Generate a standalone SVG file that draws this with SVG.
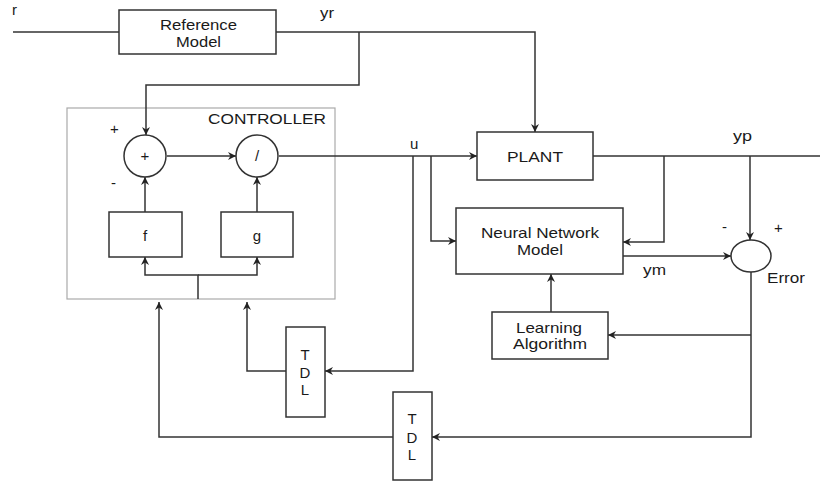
<svg xmlns="http://www.w3.org/2000/svg" width="820" height="485" viewBox="0 0 820 485">
<style>
.box{fill:#fff;stroke:#333;stroke-width:1.5}
.ln{fill:none;stroke:#333;stroke-width:1.5}
.t{font-family:"Liberation Sans",Arial,sans-serif;font-size:15px;fill:#1a1a1a}
.c{text-anchor:middle}
</style>
<defs>
<marker id="a" markerUnits="userSpaceOnUse" markerWidth="9" markerHeight="8" refX="8" refY="4" orient="auto">
<path d="M0,0 L8,4 L0,8 L2.5,4 z" fill="#222"/>
</marker>
</defs>
<rect width="820" height="485" fill="#fff"/>
<g id="controller">
<rect x="67" y="108" width="268" height="191" fill="none" stroke="#aaa" stroke-width="1.2"/>
<text class="t" x="208" y="124" textLength="118" lengthAdjust="spacingAndGlyphs">CONTROLLER</text>
</g>
<g id="connectors">
<path class="ln" d="M13,32 H119"/>
<path class="ln" d="M276,32 H535 V132" marker-end="url(#a)"/>
<path class="ln" d="M359,32 V85 H146 V135" marker-end="url(#a)"/>
<path class="ln" d="M167,156 H236" marker-end="url(#a)"/>
<path class="ln" d="M145,212 V177" marker-end="url(#a)"/>
<path class="ln" d="M257,212 V177" marker-end="url(#a)"/>
<path class="ln" d="M198,299 V275 H145 V257" marker-end="url(#a)"/>
<path class="ln" d="M198,275 H257 V257" marker-end="url(#a)"/>
<path class="ln" d="M279,156 H477" marker-end="url(#a)"/>
<path class="ln" d="M413,156 V371 H325" marker-end="url(#a)"/>
<path class="ln" d="M431,156 V241 H456" marker-end="url(#a)"/>
<path class="ln" d="M286,371 H247 V302" marker-end="url(#a)"/>
<path class="ln" d="M593,156 H820"/>
<path class="ln" d="M664,156 V242 H623" marker-end="url(#a)"/>
<path class="ln" d="M750,156 V240" marker-end="url(#a)"/>
<path class="ln" d="M623,256 H731" marker-end="url(#a)"/>
<path class="ln" d="M751,272 V437 H432" marker-end="url(#a)"/>
<path class="ln" d="M751,335 H608" marker-end="url(#a)"/>
<path class="ln" d="M551,312 V274" marker-end="url(#a)"/>
<path class="ln" d="M393,437 H159 V302" marker-end="url(#a)"/>
</g>
<g id="reference-model">
<rect class="box" x="119" y="10" width="157" height="44"/>
<text class="t" x="160" y="30" textLength="77" lengthAdjust="spacingAndGlyphs">Reference</text>
<text class="t" x="176" y="47" textLength="45" lengthAdjust="spacingAndGlyphs">Model</text>
</g>
<g id="sum">
<circle cx="145" cy="156" r="21" class="box"/>
<text class="t c" x="145" y="161">+</text>
</g>
<g id="div">
<circle cx="257" cy="156" r="21" class="box"/>
<text class="t c" x="257" y="161">/</text>
</g>
<g id="f">
<rect class="box" x="109" y="212" width="73" height="45"/>
<text class="t c" x="145" y="241">f</text>
</g>
<g id="g">
<rect class="box" x="221" y="212" width="72" height="45"/>
<text class="t c" x="257" y="241">g</text>
</g>
<g id="plant">
<rect class="box" x="477" y="132" width="116" height="48"/>
<text class="t" x="507" y="162" textLength="56" lengthAdjust="spacingAndGlyphs">PLANT</text>
</g>
<g id="nn-model">
<rect class="box" x="456" y="208" width="167" height="66"/>
<text class="t" x="481" y="238" textLength="118" lengthAdjust="spacingAndGlyphs">Neural Network</text>
<text class="t" x="517" y="255" textLength="46" lengthAdjust="spacingAndGlyphs">Model</text>
</g>
<g id="error-sum">
<ellipse cx="751" cy="256" rx="20" ry="16" class="box"/>
</g>
<g id="learning">
<rect class="box" x="492" y="312" width="116" height="47"/>
<text class="t" x="516" y="333" textLength="66" lengthAdjust="spacingAndGlyphs">Learning</text>
<text class="t" x="513" y="349" textLength="74" lengthAdjust="spacingAndGlyphs">Algorithm</text>
</g>
<g id="tdl1">
<rect class="box" x="286" y="327" width="39" height="90"/>
<text class="t c" x="305" y="360">T</text>
<text class="t c" x="305" y="378">D</text>
<text class="t c" x="305" y="395">L</text>
</g>
<g id="tdl2">
<rect class="box" x="393" y="392" width="39" height="88"/>
<text class="t c" x="412" y="424">T</text>
<text class="t c" x="412" y="443">D</text>
<text class="t c" x="412" y="460">L</text>
</g>
<g id="labels">
<text class="t" x="12" y="15">r</text>
<text class="t" x="320" y="18" textLength="14" lengthAdjust="spacingAndGlyphs">yr</text>
<text class="t" x="410" y="149">u</text>
<text class="t" x="733" y="141" textLength="19" lengthAdjust="spacingAndGlyphs">yp</text>
<text class="t" x="643" y="275" textLength="23" lengthAdjust="spacingAndGlyphs">ym</text>
<text class="t" x="767" y="283" textLength="38" lengthAdjust="spacingAndGlyphs">Error</text>
<text class="t" x="722" y="232">-</text>
<text class="t" x="774" y="233">+</text>
<text class="t" x="110" y="134">+</text>
<text class="t" x="111" y="188">-</text>
</g>
</svg>
